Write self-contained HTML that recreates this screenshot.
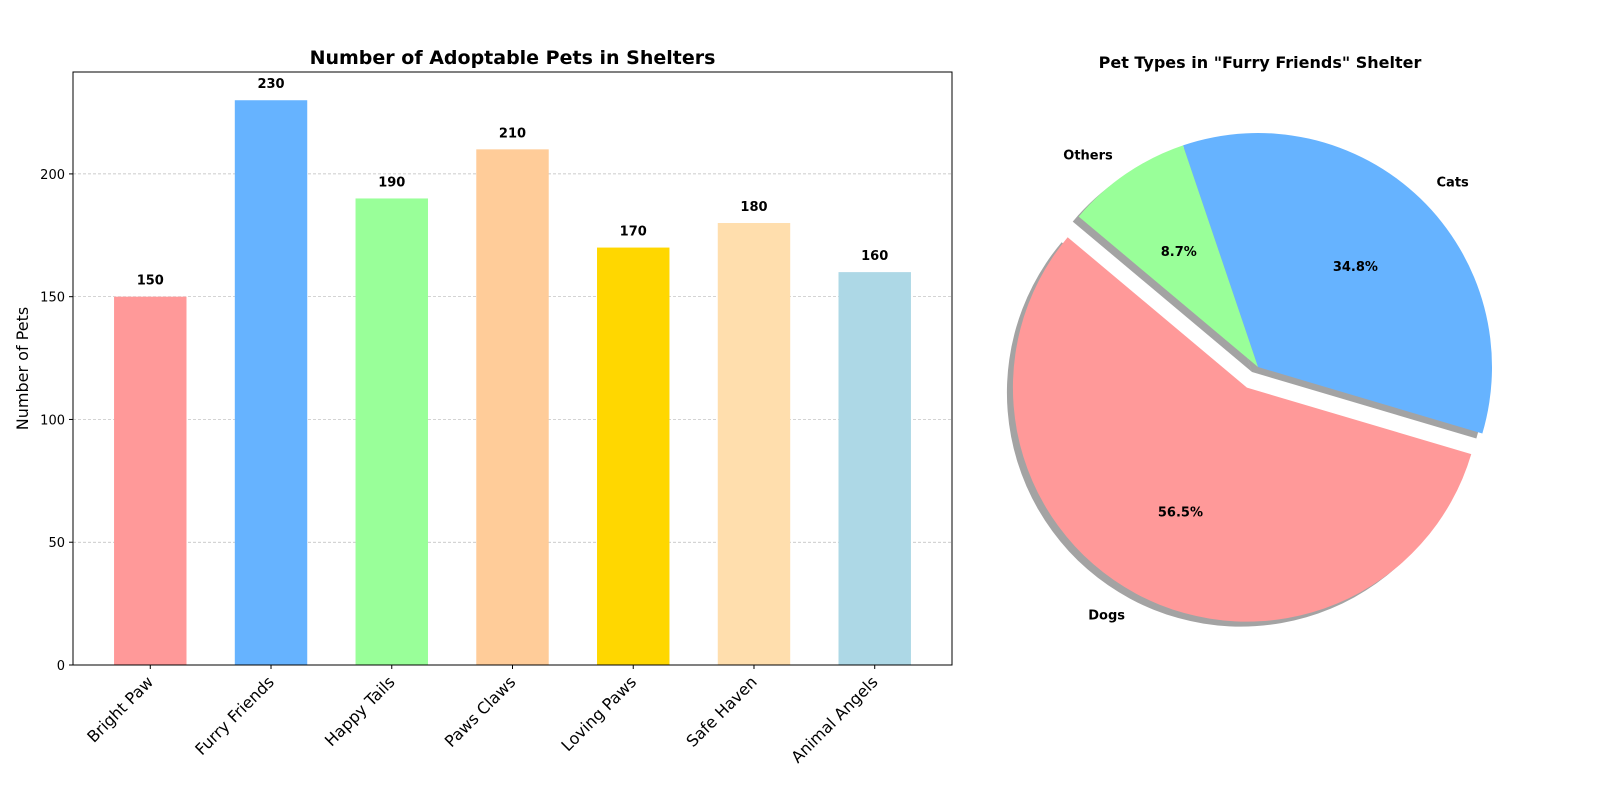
<!DOCTYPE html>
<html><head><meta charset="utf-8"><style>
body{margin:0;background:#fff;}
svg{display:block;font-family:"DejaVu Sans","Liberation Sans",sans-serif;}
</style></head><body>
<svg id="c" width="1600" height="800" viewBox="0 0 1600 800">
<text x="578" y="-6" font-size="20" font-weight="bold" text-anchor="middle">Adoptable Pets Overview</text>
</svg>
<script>
const shelters=["Bright Paw","Furry Friends","Happy Tails","Paws Claws","Loving Paws","Safe Haven","Animal Angels"];
const petCounts=[150,230,190,210,170,180,160];
const barColors=["#ff9999","#66b3ff","#99ff99","#ffcc99","#ffd700","#ffdead","#add8e6"];
const yTicks=[0,50,100,150,200];
const petTypes=["Dogs","Cats","Others"];
const petTypeCounts=[130,80,20];
const pieColors=["#ff9999","#66b3ff","#99ff99"];
const explode=[0.1,0,0];

const NS="http://www.w3.org/2000/svg";
const svg=document.getElementById('c');
function mk(tag,attrs,parent){const e=document.createElementNS(NS,tag);for(const k in attrs)e.setAttribute(k,attrs[k]);(parent||svg).appendChild(e);return e;}

const L=73,R=952,T=72,B=665;
const yMax=Math.max(...petCounts)*1.05;
const y=v=>B-(v/yMax)*(B-T);
const n=shelters.length;
const xmin=-0.64,xmax=n-1+0.64;
const x=i=>L+(i-xmin)/(xmax-xmin)*(R-L);
const bw=0.6*(R-L)/(xmax-xmin);

const title=mk('text',{x:(L+R)/2,y:64,'font-size':19,'font-weight':'bold','text-anchor':'middle'});


title.textContent="Number of Adoptable Pets in Shelters";

yTicks.forEach(t=>{
  const g=mk('line',{x1:L,x2:R,y1:y(t),y2:y(t),stroke:'#bbb','stroke-width':0.7,'stroke-dasharray':'3,2'});
  
  
  mk('line',{x1:L-4,x2:L,y1:y(t),y2:y(t),stroke:'#000','stroke-width':1});
  const tl=mk('text',{x:L-8,y:y(t)+5,'font-size':13,'text-anchor':'end'});
  
  
  tl.textContent=t;
});

petCounts.forEach((v,i)=>{
  const r=mk('rect',{x:x(i)-bw/2,y:y(v),width:bw,height:B-y(v),fill:barColors[i]});
  
  
  const vl=mk('text',{x:x(i),y:y(v)-12,'font-size':13,'font-weight':'bold','text-anchor':'middle'});
  
  
  vl.textContent=v;
  mk('line',{x1:x(i),x2:x(i),y1:B,y2:B+4,stroke:'#000','stroke-width':1});
  const xl=mk('text',{x:x(i)+4,y:B+18,'font-size':16,'text-anchor':'end',transform:`rotate(-45 ${x(i)+4} ${B+18})`});
  
  
  xl.textContent=shelters[i];
});
const fr=mk('rect',{x:L,y:T,width:R-L,height:B-T,fill:'none',stroke:'#000','stroke-width':1});


const yt=mk('text',{x:28,y:(T+B)/2,'font-size':16,'text-anchor':'middle',transform:`rotate(-90 28 ${(T+B)/2})`});


yt.textContent="Number of Pets";

const cx=1258,cy=367,rad=234,start=140;
const pt=mk('text',{x:1260,y:68,'font-size':16,'font-weight':'bold','text-anchor':'middle'});


pt.textContent='Pet Types in "Furry Friends" Shelter';
const total=petTypeCounts.reduce((a,b)=>a+b,0);
function wedge(a0,a1,ox,oy){
  const p=a=>[ox+rad*Math.cos(a*Math.PI/180),oy-rad*Math.sin(a*Math.PI/180)];
  const s=p(a0),e=p(a1);const large=(a1-a0)>180?1:0;
  return `M${ox},${oy} L${s[0]},${s[1]} A${rad},${rad} 0 ${large} 0 ${e[0]},${e[1]} Z`;
}
const shadowG=mk('g',{}),pieG=mk('g',{}),lblG=mk('g',{});
let a=start;
petTypeCounts.forEach((v,i)=>{
  const sweep=v/total*360,mid=(a+sweep/2)*Math.PI/180;
  const ox=cx+explode[i]*rad*Math.cos(mid),oy=cy-explode[i]*rad*Math.sin(mid);
  const sh=mk('path',{d:wedge(a,a+sweep,ox-6,oy+5),fill:'#333','fill-opacity':0.45},shadowG);
  
  
  const w=mk('path',{d:wedge(a,a+sweep,ox,oy),fill:pieColors[i]},pieG);
  
  
  const pl=mk('text',{x:ox+0.6*rad*Math.cos(mid),y:oy-0.6*rad*Math.sin(mid)+5,'font-size':13,'font-weight':'bold','text-anchor':'middle'},lblG);
  
  
  pl.textContent=(v/total*100).toFixed(1)+'%';
  const nl=mk('text',{x:ox+1.1*rad*Math.cos(mid),y:oy-1.1*rad*Math.sin(mid)+5,'font-size':13,'font-weight':'bold','text-anchor':Math.cos(mid)<0?'end':'start'},lblG);
  
  
  nl.textContent=petTypes[i];
  a+=sweep;
});
</script>
</body></html>
